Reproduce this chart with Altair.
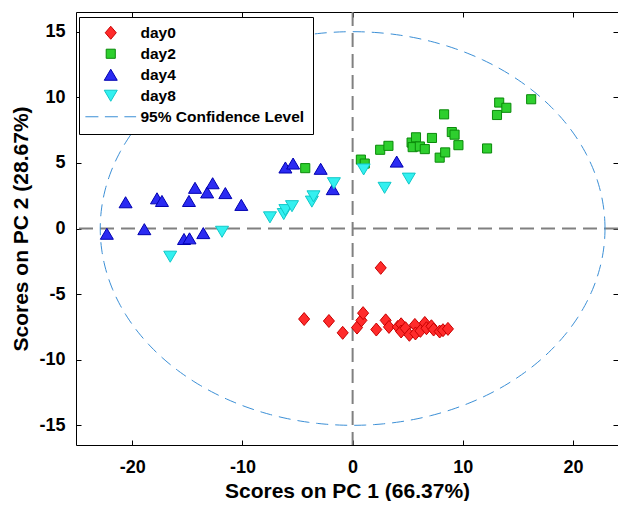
import altair as alt
import numpy as np
import pandas as pd

# ---- data ----
day0_x = [2.55, -4.4, -2.15, -0.9, 0.4, 0.8, 0.95, 2.15, 3.0, 3.3, 4.1, 4.4, 4.4, 4.8, 5.15,
          5.65, 5.7, 6.15, 6.55, 6.7, 7.15, 7.35, 7.9, 8.2, 8.65]
day0_y = [-3.0, -6.9, -7.05, -7.95, -7.55, -7.0, -6.45, -7.7, -7.0, -7.5, -7.5, -7.3, -7.85, -7.6, -8.1,
          -7.35, -8.0, -7.8, -7.2, -7.6, -7.45, -7.7, -7.85, -7.75, -7.65]

day2_x = [-4.3, 0.75, 1.1, 2.5, 3.25, 5.35, 5.45, 5.75, 6.1, 6.55, 7.2, 7.9, 8.4, 8.3, 9.0,
          9.25, 9.6, 12.2, 13.1, 13.3, 13.95, 16.2]
day2_y = [4.6, 5.25, 4.95, 6.0, 6.3, 6.55, 6.2, 6.95, 6.25, 6.05, 6.9, 5.4, 5.8, 8.7, 7.35,
          7.15, 6.35, 6.1, 8.65, 9.6, 9.2, 9.85]

day4_x = [-22.3, -20.6, -17.75, -17.3, -18.9, -15.3, -14.8, -13.55, -14.85, -14.3, -13.2, -12.7,
          -11.55, -10.1, -6.1, -5.4, -2.9, -1.8, 4.0]
day4_y = [-0.4, 2.0, 2.3, 2.1, -0.05, -0.8, -0.75, -0.35, 2.1, 3.1, 2.75, 3.45,
          2.7, 1.8, 4.65, 4.95, 4.55, 3.0, 5.1]

day8_x = [-16.55, -11.85, -7.5, -6.25, -6.1, -5.5, -3.7, -3.55, -1.7, 1.0, 2.9, 5.1]
day8_y = [-2.15, -0.25, 0.85, 1.1, 1.4, 1.7, 2.05, 2.45, 3.45, 4.5, 3.1, 3.8]

groups = ["day0", "day2", "day4", "day8", "95% Confidence Level"]
x_ticks = [-20, -10, 0, 10, 20]
y_ticks = [-15, -10, -5, 0, 5, 10, 15]
ellipse_axes = [22.9, 15.0]   # semi-axes of the 95% confidence ellipse
zero_line = [0]

# ---- tables ----
rows = []
for g, xs, ys in [("day0", day0_x, day0_y), ("day2", day2_x, day2_y),
                  ("day4", day4_x, day4_y), ("day8", day8_x, day8_y)]:
    for a, b in zip(xs, ys):
        rows.append({"group": g, "x": a, "y": b})
pts = pd.DataFrame(rows)

t = np.linspace(0, 2 * np.pi, 361)
ell = pd.DataFrame({"x": ellipse_axes[0] * np.cos(t), "y": ellipse_axes[1] * np.sin(t), "i": np.arange(len(t))})
zero_df = pd.DataFrame({"v": zero_line})

# ---- styles ----
W, H = 542, 433
FONT = "Liberation Sans"
fills = ["#ff2b2b", "#2ecf2e", "#2b2bf2", "#33f0f0", "transparent"]
strokes = ["#c80000", "#0a8a0a", "#0000b0", "#10c8c8", "#3b8fd6"]
shapes = [
    "M0,-1L0.85,0L0,1L-0.85,0Z",
    "M-0.7,-0.7L0.7,-0.7L0.7,0.7L-0.7,0.7Z",
    "M0,-0.85L1,0.85L-1,0.85Z",
    "M0,0.85L1,-0.85L-1,-0.85Z",
    "M-3.9,0L-1.9,0M-0.9,0L1.1,0M2.1,0L3.9,0",
]

xscale = alt.Scale(domain=[-25.1, 24.08], nice=False, zero=False)
yscale = alt.Scale(domain=[-16.5, 16.5], nice=False, zero=False)

common = dict(grid=False, labelFont=FONT, titleFont=FONT, labelColor="black", titleColor="black",
              domainColor="black", tickColor="black", domainWidth=1, tickWidth=1)

ax_x_main = alt.Axis(orient="bottom", values=x_ticks, title="Scores on PC 1 (66.37%)", ticks=False, tickSize=0,
                     domain=True, labelPadding=13, titlePadding=4, labelFontSize=18, titleFontSize=21,
                     labelFontWeight="bold", titleFontWeight="bold", labelFlush=False,
                     labelExpr="datum.value + ''", **common)
ax_y_main = alt.Axis(orient="left", values=y_ticks, title="Scores on PC 2 (28.67%)", ticks=False, tickSize=0,
                     domain=True, labelPadding=11, titlePadding=7, labelFontSize=18, titleFontSize=21,
                     labelFontWeight="bold", titleFontWeight="bold", labelFlush=False,
                     labelExpr="datum.value + ''", **common)
# inward ticks on all four sides
ax_x_bot_in = alt.Axis(orient="top", offset=-H, values=x_ticks, labels=False, domain=False, title=None,
                       tickSize=5, **common)
ax_x_top_in = alt.Axis(orient="bottom", offset=-H, values=x_ticks, labels=False, domain=True, title=None,
                       tickSize=5, **common)
ax_y_left_in = alt.Axis(orient="right", offset=-W, values=y_ticks, labels=False, domain=False, title=None,
                        tickSize=5, **common)
ax_y_right_in = alt.Axis(orient="left", offset=-W, values=y_ticks, labels=False, domain=False, title=None,
                         tickSize=5, **common)

hline = alt.Chart(zero_df).mark_rule(color="#808080", strokeWidth=2, strokeDash=[14, 7]).encode(
    y=alt.Y("v:Q", scale=yscale, axis=ax_y_right_in)
)
vline = alt.Chart(zero_df).mark_rule(color="#808080", strokeWidth=2, strokeDash=[14, 7]).encode(
    x=alt.X("v:Q", scale=xscale, axis=ax_x_top_in)
)
ellipse = alt.Chart(ell).mark_line(color="#3b8fd6", strokeWidth=1, strokeDash=[12, 7]).encode(
    x=alt.X("x:Q", scale=xscale, axis=ax_x_bot_in),
    y=alt.Y("y:Q", scale=yscale, axis=ax_y_left_in),
    order="i:Q",
)

legend = alt.Legend(title=None, orient="none", legendX=3, legendY=5, fillColor="white",
                    strokeColor="black", padding=8, symbolSize=169, symbolStrokeWidth=1,
                    labelFont=FONT, labelFontSize=15.5, labelFontWeight="bold", labelColor="black",
                    labelLimit=400, rowPadding=4, symbolOffset=16, labelOffset=22, cornerRadius=0)

points = alt.Chart(pts).mark_point(filled=True, opacity=1, size=169, strokeWidth=1).encode(
    x=alt.X("x:Q", scale=xscale, axis=ax_x_main),
    y=alt.Y("y:Q", scale=yscale, axis=ax_y_main),
    fill=alt.Fill("group:N", scale=alt.Scale(domain=groups, range=fills), legend=legend),
    stroke=alt.Stroke("group:N", scale=alt.Scale(domain=groups, range=strokes), legend=legend),
    shape=alt.Shape("group:N", scale=alt.Scale(domain=groups, range=shapes), legend=legend),
)

chart = alt.layer(hline, vline, ellipse, points).resolve_axis(
    x="independent", y="independent"
).properties(
    width=W, height=H,
    padding={"left": 68, "top": 4, "right": 0, "bottom": 56},
    autosize=alt.AutoSizeParams(type="none"),
).configure_view(stroke=None).configure(font=FONT, background="white")

chart.save("out.html", embed_options={"renderer": "svg", "actions": False})
